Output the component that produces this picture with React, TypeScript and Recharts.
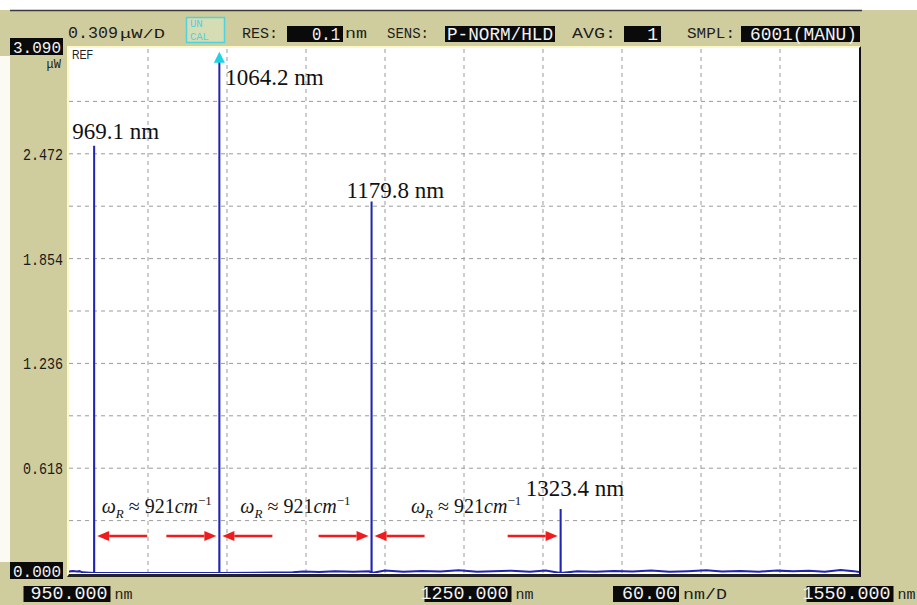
import React from "react";
import {
  ComposedChart,
  Line,
  XAxis,
  YAxis,
  CartesianGrid,
  ReferenceDot,
  ReferenceLine,
} from "recharts";

// Lines of the Raman cascade (nm, μW)
const peakWavelengths = [969.1, 1064.2, 1179.8, 1323.4];
const peakPowers = [2.52, 3.05, 2.19, 0.377];
const peakLabels = ["969.1 nm", "1064.2 nm", "1179.8 nm", "1323.4 nm"];

// noise floor samples between the lines
const floorWavelengths = [
  950, 951, 953, 956, 958, 960, 1000, 1063, 1120, 1128, 1140, 1152, 1166, 1178,
  1190, 1204, 1218, 1232, 1246, 1260, 1272, 1286, 1300, 1312, 1336, 1350, 1364,
  1378, 1392, 1406, 1420, 1434, 1446, 1460, 1474, 1488, 1500, 1512, 1524, 1536,
  1546, 1550,
];
const floorPowers = [
  0.006, 0.01, 0.012, 0.009, 0.011, 0.004, 0, 0, 0.004, 0.009, 0.006, 0.011,
  0.008, 0.01, 0.014, 0.007, 0.012, 0.009, 0.016, 0.008, 0.011, 0.013, 0.007,
  0.015, 0.01, 0.008, 0.012, 0.009, 0.014, 0.007, 0.011, 0.016, 0.009, 0.012,
  0.008, 0.014, 0.01, 0.013, 0.007, 0.018, 0.011, 0.006,
];

const xTicks = [950, 1010, 1070, 1130, 1190, 1250, 1310, 1370, 1430, 1490, 1550];
const xLabelValues = [950, 1250, 1550];
const xLabelTexts = ["950.000", "1250.000", "1550.000"];

const yTicks = [0, 0.309, 0.618, 0.927, 1.236, 1.545, 1.854, 2.163, 2.472, 2.781, 3.09];
const yTickLabels = ["0.000", "", "0.618", "", "1.236", "", "1.854", "", "2.472", "", "3.090"];

const ramanShift = 921; // cm^-1 between neighbouring lines
const arrowLevel = 0.218;
const markerIndex = 1;

const trace = [
  ...floorWavelengths.map((wl, i) => ({ wl, p: floorPowers[i] })),
  ...peakWavelengths.flatMap((wl, i) => [
    { wl: wl - 0.05, p: 0 },
    { wl, p: peakPowers[i] },
    { wl: wl + 0.05, p: 0 },
  ]),
].sort((a, b) => a.wl - b.wl);

const OLIVE = "#cfcc9d";
const MONO = "'Liberation Mono', 'DejaVu Sans Mono', monospace";
const SERIF = "'Liberation Serif', 'Times New Roman', serif";
const TRACE = "#2124b0";
const ARROW = "#ee1c1c";
const CYAN = "#4fd3dc";

// label placement relative to each peak top
const labelOffsets = [
  [-22, -7],
  [6, 29],
  [-25, -4],
  [-35, -13],
];
const xLabelShift = [-2, 4, -9];

function YTick(props: any) {
  const { y, payload } = props;
  const label = yTickLabels[yTicks.indexOf(payload.value)];
  if (!label) return null;
  const boxed = label === "0.000" || label === "3.090";
  if (boxed) {
    return (
      <g>
        <rect x={10} y={y - 11} width={53} height={17} fill="#0a0a0a" />
        <text x={61} y={y + 4} textAnchor="end" fontFamily={MONO} fontSize={17}
          fill="#f2f2f2" textLength={48} lengthAdjust="spacingAndGlyphs">
          {label}
        </text>
        {label === "3.090" && (
          <text x={61} y={y + 19} textAnchor="end" fontFamily={MONO} fontSize={12}
            fill="#222">μW</text>
        )}
      </g>
    );
  }
  return (
    <text x={63} y={y + 6} textAnchor="end" fontFamily={MONO} fontSize={17}
      fill="#1a1a1a" textLength={40} lengthAdjust="spacingAndGlyphs">
      {label}
    </text>
  );
}

function XTick(props: any) {
  const { x, payload } = props;
  const i = xLabelValues.indexOf(payload.value);
  if (i < 0) return null;
  const cx = x + xLabelShift[i];
  const w = 87;
  return (
    <g>
      <rect x={cx - w / 2} y={586} width={w} height={16} fill="#0a0a0a" />
      <text x={cx + w / 2 - 3} y={599} textAnchor="end" fontFamily={MONO} fontSize={18}
        fill="#f2f2f2" textLength={xLabelTexts[i].length * 11} lengthAdjust="spacingAndGlyphs">
        {xLabelTexts[i]}
      </text>
      <text x={cx + w / 2 + 4} y={599} fontFamily={MONO} fontSize={15} fill="#222">nm</text>
    </g>
  );
}

function Arrow({ from, to, y }: { from: number; to: number; y: number }) {
  const dir = to > from ? 1 : -1;
  const head = 12;
  return (
    <g>
      <line x1={from} y1={y} x2={to - dir * head} y2={y} stroke={ARROW} strokeWidth={2.5} />
      <polygon
        points={`${to},${y} ${to - dir * head},${y - 5} ${to - dir * head},${y + 5}`}
        fill={ARROW}
      />
    </g>
  );
}

// two arrows between neighbouring lines plus the Raman shift label
function RamanSpan(props: any) {
  const { x1, x2, y1 } = props;
  const gap = 3;
  const len = 50;
  const mid = (x1 + x2) / 2;
  return (
    <g>
      <Arrow from={x1 + gap + len} to={x1 + gap} y={y1} />
      <Arrow from={x2 - gap - len} to={x2 - gap} y={y1} />
      <text x={mid} y={y1 - 23} textAnchor="middle" fontFamily={SERIF} fontSize={20} fill="#151515">
        <tspan fontStyle="italic">ω</tspan>
        <tspan fontStyle="italic" fontSize={13} dy={5}>R</tspan>
        <tspan dy={-5}> ≈ {ramanShift}</tspan>
        <tspan fontStyle="italic">cm</tspan>
        <tspan fontSize={13} dy={-8}>−1</tspan>
      </text>
    </g>
  );
}

function HeaderFooter() {
  const lbl = { fontFamily: MONO, fill: "#1e1e1e", lengthAdjust: "spacingAndGlyphs" } as any;
  const val = { fontFamily: MONO, fill: "#f2f2f2", fontSize: 18, lengthAdjust: "spacingAndGlyphs" } as any;
  return (
    <svg width={917} height={605} style={{ position: "absolute", left: 0, top: 0 }}>
      <rect x={0} y={56} width={10} height={506} fill="#fbfbf4" />
      <line x1={10} y1={10.5} x2={862} y2={10.5} stroke="#3a3a3a" strokeWidth={1.5} />

      <text x={68} y={38} fontSize={16} textLength={50} {...lbl}>0.309</text>
      <text x={120} y={38} fontSize={13} textLength={45} {...lbl}>μW/D</text>

      <rect x={186.5} y={17.5} width={38} height={25} fill="#d6dcb4" stroke={CYAN} strokeWidth={1.5} />
      <text x={190} y={27} fontFamily={MONO} fontSize={10.5} fill={CYAN}>UN</text>
      <text x={190} y={40} fontFamily={MONO} fontSize={10.5} fill={CYAN}>CAL</text>

      <text x={242} y={38} fontSize={15} textLength={36} {...lbl}>RES:</text>
      <rect x={287} y={26} width={56} height={16} fill="#0a0a0a" />
      <text x={340} y={40} textAnchor="end" textLength={28} {...val}>0.1</text>
      <text x={345} y={38} fontSize={14} textLength={22} {...lbl}>nm</text>

      <text x={387} y={38} fontSize={15} textLength={42} {...lbl}>SENS:</text>
      <rect x={445} y={26} width={110} height={16} fill="#0a0a0a" />
      <text x={447} y={40} textLength={106} {...val}>P-NORM/HLD</text>

      <text x={572} y={38} fontSize={15} textLength={44} {...lbl}>AVG:</text>
      <rect x={624} y={26} width={37} height={16} fill="#0a0a0a" />
      <text x={658} y={40} textAnchor="end" {...val}>1</text>

      <text x={687} y={38} fontSize={15} textLength={48} {...lbl}>SMPL:</text>
      <rect x={741} y={26} width={119} height={16} fill="#0a0a0a" />
      <text x={750} y={40} textLength={107} {...val}>6001(MANU)</text>

      <text x={72} y={59} fontFamily="'Liberation Sans', Arial, sans-serif" fontSize={12}
        fill="#222" textLength={21} lengthAdjust="spacingAndGlyphs">REF</text>

      <rect x={613} y={586} width={66} height={16} fill="#0a0a0a" />
      <text x={677} y={599} textAnchor="end" textLength={55} {...val}>60.00</text>
      <text x={683} y={599} fontSize={15} textLength={44} {...lbl}>nm/D</text>
    </svg>
  );
}

export default function App() {
  return (
    <div style={{ position: "absolute", left: 0, top: 0, width: 917, height: 605, background: "#fff", overflow: "hidden" }}>
      <div style={{ position: "absolute", left: 0, top: 10, width: 917, height: 595, background: OLIVE }} />
      <div
        style={{
          position: "absolute",
          left: 67,
          top: 46,
          width: 794,
          height: 531,
          background: "#fff",
          borderTop: "2px solid #fdf8c8",
          borderLeft: "2px solid #fdf8c8",
          borderRight: "2px solid #111",
          borderBottom: "3px solid #222",
          boxSizing: "border-box",
        }}
      />
      <HeaderFooter />
      <div style={{ position: "absolute", left: 0, top: 0 }}>
        <ComposedChart
          width={917}
          height={605}
          data={trace}
          margin={{ top: 49, right: 58, bottom: 0, left: 0 }}
        >
          <CartesianGrid
            stroke="#9b9b9b"
            strokeDasharray="4 4"
            horizontalValues={yTicks.slice(1, -1)}
            verticalValues={xTicks.slice(1, -1)}
          />
          <XAxis
            dataKey="wl"
            type="number"
            domain={[950, 1550]}
            ticks={xTicks}
            interval={0}
            height={32}
            axisLine={false}
            tickLine={false}
            tick={<XTick />}
            allowDataOverflow
          />
          <YAxis
            type="number"
            domain={[0, 3.09]}
            ticks={yTicks}
            interval={0}
            width={69}
            axisLine={false}
            tickLine={false}
            tick={<YTick />}
            allowDataOverflow
          />
          <Line
            dataKey="p"
            type="linear"
            stroke={TRACE}
            strokeWidth={2}
            dot={false}
            activeDot={false}
            isAnimationActive={false}
          />
          {peakWavelengths.slice(1).map((wl, i) => (
            <ReferenceLine
              key={`span-${wl}`}
              segment={[
                { x: peakWavelengths[i], y: arrowLevel },
                { x: wl, y: arrowLevel },
              ]}
              shape={(p: any) => <RamanSpan {...p} />}
            />
          ))}
          {peakWavelengths.map((wl, i) => (
            <ReferenceDot
              key={`lbl-${wl}`}
              x={wl}
              y={peakPowers[i]}
              r={0}
              shape={(p: any) => (
                <text
                  x={p.cx + labelOffsets[i][0]}
                  y={p.cy + labelOffsets[i][1]}
                  fontFamily={SERIF}
                  fontSize={23}
                  fill="#111"
                >
                  {peakLabels[i]}
                </text>
              )}
            />
          ))}
          <ReferenceDot
            x={peakWavelengths[markerIndex]}
            y={peakPowers[markerIndex]}
            r={0}
            shape={(p: any) => (
              <polygon
                points={`${p.cx},${p.cy - 4} ${p.cx - 5.5},${p.cy + 7} ${p.cx + 5.5},${p.cy + 7}`}
                fill="#1fd2e4"
              />
            )}
          />
        </ComposedChart>
      </div>
    </div>
  );
}
